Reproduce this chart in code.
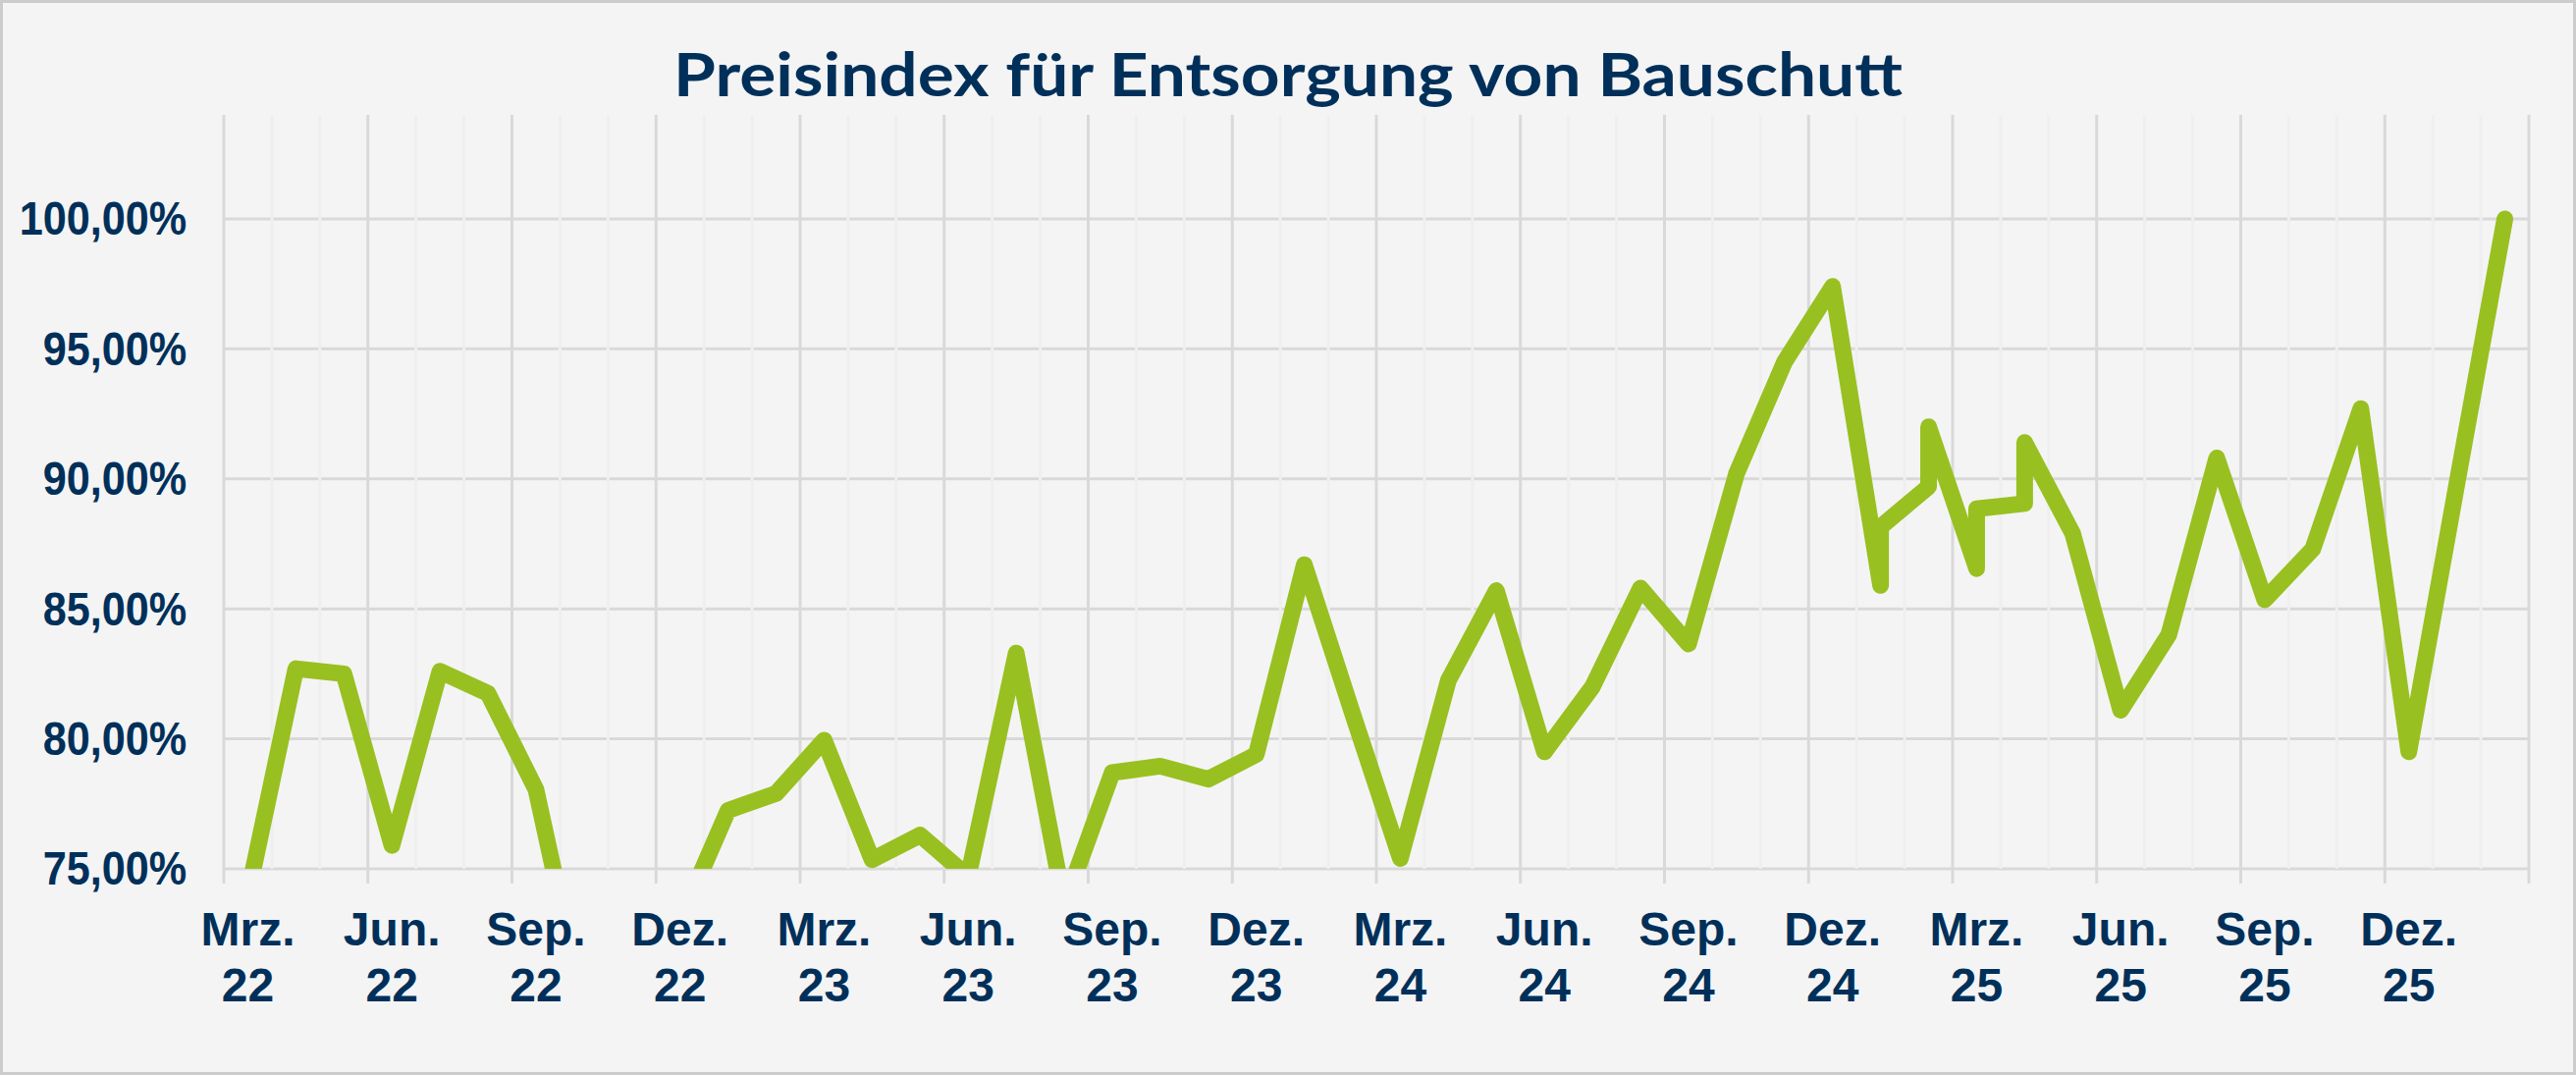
<!DOCTYPE html>
<html>
<head>
<meta charset="utf-8">
<script src="https://cdn.jsdelivr.net/npm/d3@7"></script>
<style>
  html, body { margin: 0; padding: 0; background: #f4f4f4; }
  svg { display: block; }
</style>
</head>
<body>
<div id="chart"></div>
<script>
var width = 2624;
var height = 1095;

var margin = {
  top: 117,
  left: 228,
  bottom: 210,
  right: 48
};

var title = "Preisindex für Entsorgung von Bauschutt";

// monthly categories, Mrz. 22 bis Feb. 26
var months = [
  "2022-03", "2022-04", "2022-05", "2022-06", "2022-07", "2022-08",
  "2022-09", "2022-10", "2022-11", "2022-12", "2023-01", "2023-02",
  "2023-03", "2023-04", "2023-05", "2023-06", "2023-07", "2023-08",
  "2023-09", "2023-10", "2023-11", "2023-12", "2024-01", "2024-02",
  "2024-03", "2024-04", "2024-05", "2024-06", "2024-07", "2024-08",
  "2024-09", "2024-10", "2024-11", "2024-12", "2025-01", "2025-02",
  "2025-03", "2025-04", "2025-05", "2025-06", "2025-07", "2025-08",
  "2025-09", "2025-10", "2025-11", "2025-12", "2026-01", "2026-02"
];

// index values in %, some months have two entries
var pointMonths = [
  "2022-03", "2022-04", "2022-05", "2022-06", "2022-07", "2022-08",
  "2022-09", "2022-10", "2022-11", "2022-12", "2023-01", "2023-02",
  "2023-03", "2023-04", "2023-05", "2023-06", "2023-07", "2023-08",
  "2023-09", "2023-10", "2023-11", "2023-12", "2024-01", "2024-02",
  "2024-03", "2024-04", "2024-05", "2024-06", "2024-07", "2024-08",
  "2024-09", "2024-10", "2024-11", "2024-12", "2025-01", "2025-01",
  "2025-02", "2025-02", "2025-03", "2025-03", "2025-04", "2025-04",
  "2025-05", "2025-06", "2025-07", "2025-08", "2025-09", "2025-10",
  "2025-11", "2025-12", "2026-01", "2026-02"
];
var pointValues = [
  74.0, 82.7, 82.5, 75.9, 82.6, 81.75,
  78.05, 69.6, 70.5, 73.0, 77.25, 77.9,
  79.95, 75.35, 76.3, 74.7, 83.3, 73.6,
  78.7, 78.95, 78.45, 79.4, 86.7, 81.0,
  75.4, 82.25, 85.7, 79.5, 82.0, 85.8,
  83.65, 90.2, 94.5, 97.4, 85.9, 88.15,
  89.7, 92.0, 86.55, 88.85, 89.05, 91.4,
  87.9, 81.1, 84.0, 90.8, 85.35, 87.3,
  92.7, 79.5, 89.8, 100.0
];

var yTicks = [75, 80, 85, 90, 95, 100];
var xTickMonths = [
  "2022-03", "2022-06", "2022-09", "2022-12",
  "2023-03", "2023-06", "2023-09", "2023-12",
  "2024-03", "2024-06", "2024-09", "2024-12",
  "2025-03", "2025-06", "2025-09", "2025-12"
];
var xTickNames = [
  "Mrz.", "Jun.", "Sep.", "Dez.",
  "Mrz.", "Jun.", "Sep.", "Dez.",
  "Mrz.", "Jun.", "Sep.", "Dez.",
  "Mrz.", "Jun.", "Sep.", "Dez."
];
var xTickYears = [
  "22", "22", "22", "22",
  "23", "23", "23", "23",
  "24", "24", "24", "24",
  "25", "25", "25", "25"
];

var navy = "#00305a";
var green = "#98c021";

var svg = d3
  .select("#chart")
  .append("svg")
  .attr("width", width)
  .attr("height", height);

svg
  .append("rect")
  .attr("x", 1.5)
  .attr("y", 1.5)
  .attr("width", width - 3)
  .attr("height", height - 3)
  .attr("fill", "#f4f4f4")
  .attr("stroke", "#cccccc")
  .attr("stroke-width", 3);

var plotW = width - margin.left - margin.right;
var plotH = height - margin.top - margin.bottom;

var x = d3
  .scaleBand()
  .domain(months)
  .range([0, plotW])
  .padding(0);

var y = d3
  .scaleLinear()
  .domain([75, 104])
  .range([plotH, 0]);

var g = svg
  .append("g")
  .attr("transform", "translate(" + margin.left + "," + margin.top + ")");

// horizontal grid
g.selectAll(".hgrid")
  .data(yTicks)
  .enter()
  .append("line")
  .attr("class", "hgrid")
  .attr("x1", 0)
  .attr("x2", plotW)
  .attr("y1", function(d) {
    return y(d);
  })
  .attr("y2", function(d) {
    return y(d);
  })
  .attr("stroke", "#d9d9d9")
  .attr("stroke-width", 3);

// month boundaries (minor) and quarter boundaries (major)
var bounds = months.map(function(m) {
  return x(m);
});
bounds.push(plotW);

g.selectAll(".vminor")
  .data(bounds.filter(function(d, i) {
    return i % 3 != 0;
  }))
  .enter()
  .append("line")
  .attr("class", "vminor")
  .attr("x1", function(d) {
    return d;
  })
  .attr("x2", function(d) {
    return d;
  })
  .attr("y1", 0)
  .attr("y2", plotH)
  .attr("stroke", "#efefef")
  .attr("stroke-width", 3);

g.selectAll(".vmajor")
  .data(bounds.filter(function(d, i) {
    return i % 3 == 0;
  }))
  .enter()
  .append("line")
  .attr("class", "vmajor")
  .attr("x1", function(d) {
    return d;
  })
  .attr("x2", function(d) {
    return d;
  })
  .attr("y1", 0)
  .attr("y2", plotH + 15)
  .attr("stroke", "#d9d9d9")
  .attr("stroke-width", 3);

// y axis labels
var de = d3.formatLocale({
  decimal: ",",
  thousands: ".",
  grouping: [3],
  currency: ["", " €"]
});
var fmt = de.format(".2f");

var yAxis = g
  .append("g")
  .call(
    d3
      .axisLeft(y)
      .tickValues(yTicks)
      .tickSize(0)
      .tickPadding(42)
      .tickFormat(function(d) {
        return fmt(d) + "%";
      })
  );
yAxis.select(".domain").remove();
yAxis
  .selectAll("text")
  .attr("font-family", "'Liberation Sans', Arial, sans-serif")
  .attr("font-weight", "bold")
  .attr("font-size", "48px")
  .attr("fill", navy)
  .attr("dy", "0.33em")
  .attr("transform", "scale(0.9,1)");

// x axis labels, two lines
var xl = g
  .selectAll(".xlabel")
  .data(xTickMonths)
  .enter()
  .append("text")
  .attr("class", "xlabel")
  .attr("text-anchor", "middle")
  .attr("font-family", "'Liberation Sans', Arial, sans-serif")
  .attr("font-weight", "bold")
  .attr("font-size", "48px")
  .attr("fill", navy);

xl.append("tspan")
  .attr("x", function(d) {
    return x(d) + x.bandwidth() / 2;
  })
  .attr("y", plotH + 78)
  .text(function(d, i) {
    return xTickNames[i];
  });

xl.append("tspan")
  .attr("x", function(d) {
    return x(d) + x.bandwidth() / 2;
  })
  .attr("y", plotH + 135)
  .text(function(d, i) {
    return xTickYears[i];
  });

// line, clipped to the plot area
svg
  .append("defs")
  .append("clipPath")
  .attr("id", "plotclip")
  .append("rect")
  .attr("x", 0)
  .attr("y", -20)
  .attr("width", plotW)
  .attr("height", plotH + 20);

var line = d3
  .line()
  .x(function(d, i) {
    return x(pointMonths[i]) + x.bandwidth() / 2;
  })
  .y(function(d) {
    return y(d);
  });

g.append("path")
  .datum(pointValues)
  .attr("clip-path", "url(#plotclip)")
  .attr("d", line)
  .attr("fill", "none")
  .attr("stroke", green)
  .attr("stroke-width", 17)
  .attr("stroke-linejoin", "round")
  .attr("stroke-linecap", "round");

// title
svg
  .append("text")
  .attr("x", width / 2)
  .attr("y", 98)
  .attr("text-anchor", "middle")
  .attr("font-family", "Lato, 'Open Sans', sans-serif")
  .attr("font-weight", "bold")
  .attr("font-size", "61px")
  .attr("fill", navy)
  .attr("textLength", 1252)
  .attr("lengthAdjust", "spacingAndGlyphs")
  .text(title);
</script>
</body>
</html>
